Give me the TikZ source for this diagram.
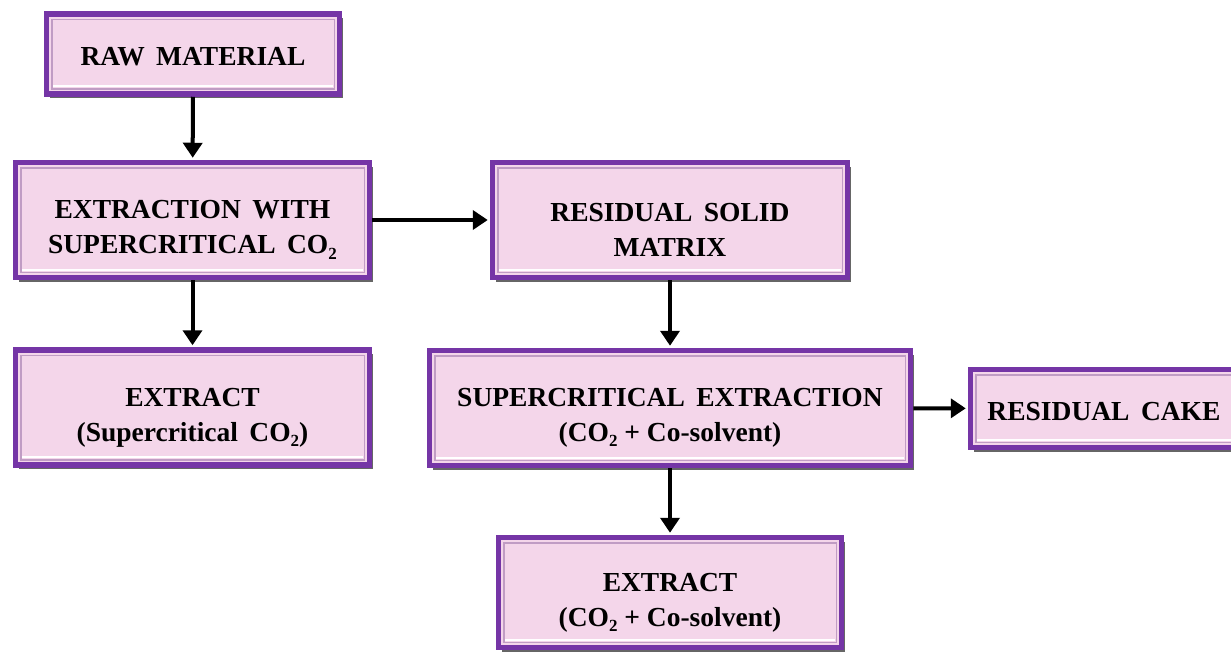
\documentclass[tikz,border=0pt]{standalone}
\usepackage{fontspec}
\setmainfont{Liberation Serif}
\usetikzlibrary{arrows.meta,shadows}
\definecolor{boxpink}{HTML}{F4D6EA}
\definecolor{boxpurple}{HTML}{7535A6}
\definecolor{innerline}{HTML}{C09CC4}
\newcommand\subtwo{\raisebox{-0.4ex}{\fontsize{17}{17}\selectfont 2}}
\newcommand\dnA{\rule{0pt}{38pt}}
\newcommand\dnB{\rule{0pt}{24pt}}
\tikzset{
 flowbox/.style={draw=boxpurple, line width=5.5pt, fill=boxpink,
   drop shadow={shadow xshift=3pt, shadow yshift=-4pt, opacity=0.75, fill=black!80},
   align=center, font=\fontsize{27.5}{35}\selectfont\bfseries, inner sep=0pt},
 flowarrow/.style={line width=4pt, -{Triangle[length=15pt,width=19pt]}, shorten >=2pt},
}
\newcommand\innerframe[1]{\draw[innerline, line width=1.5pt] ([shift={(8pt,-8pt)}]#1.north west) rectangle ([shift={(-8pt,8pt)}]#1.south east);
\draw[white, line width=1.8pt] ([shift={(9.5pt,10.5pt)}]#1.south west) -- ([shift={(-9.5pt,10.5pt)}]#1.south east);}
\begin{document}
\begin{tikzpicture}[x=1pt,y=-1pt]
\useasboundingbox (0,0) rectangle (1231,651);
\clip (0,0) rectangle (1231,651);
\node[flowbox, minimum width=293pt, minimum height=80pt] (raw) at (193,54) {\dnB RAW\, MATERIAL};
\node[flowbox, minimum width=354pt, minimum height=115pt] (ext1) at (192.5,220) {\dnA EXTRACTION\, WITH\\SUPERCRITICAL\, CO\subtwo};
\node[flowbox, minimum width=355pt, minimum height=115pt] (res) at (670,220) {\dnA RESIDUAL\, SOLID\\MATRIX};
\node[flowbox, minimum width=354pt, minimum height=115pt] (extL) at (192.5,407.5) {\dnA EXTRACT\\(Supercritical\, CO\subtwo)};
\node[flowbox, minimum width=481pt, minimum height=115pt] (sup) at (670,408) {\dnA SUPERCRITICAL\, EXTRACTION\\(CO\subtwo\ + Co-solvent)};
\node[flowbox, minimum width=267pt, minimum height=78pt] (cake) at (1104,408.5) {\dnB RESIDUAL\, CAKE};
\node[flowbox, minimum width=343pt, minimum height=110pt] (extB) at (670,592.5) {\dnA EXTRACT\\(CO\subtwo\ + Co-solvent)};
\innerframe{raw}
\innerframe{ext1}
\innerframe{res}
\innerframe{extL}
\innerframe{sup}
\innerframe{cake}
\innerframe{extB}
\draw[flowarrow] (raw) -- (ext1);
\draw[flowarrow] (ext1) -- (res);
\draw[flowarrow] (ext1) -- (extL);
\draw[flowarrow] (res) -- (sup);
\draw[flowarrow] (sup) -- (cake);
\draw[flowarrow] (sup) -- (extB);
\end{tikzpicture}
\end{document}
